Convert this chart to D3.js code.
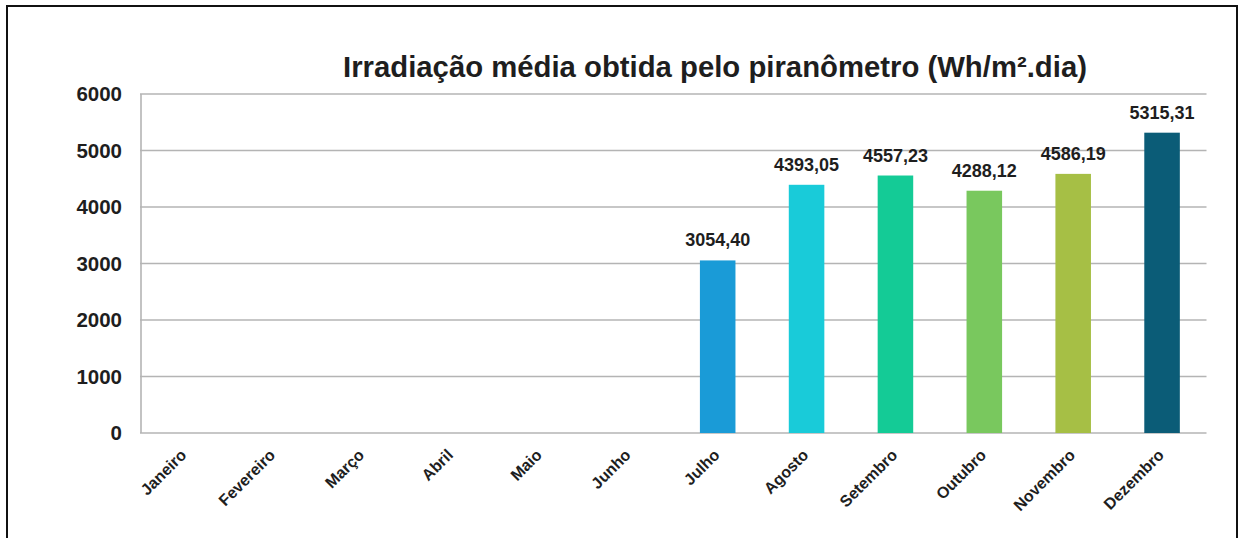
<!DOCTYPE html>
<html>

<head>
  <title>Irradiação</title>
  <script src="https://cdn.jsdelivr.net/npm/d3@7"></script>
  <style>
    body { margin: 0; background: #fff; }
    text { font-family: Arial, "Liberation Sans", sans-serif; font-weight: bold; fill: #1e1e1e; }
  </style>
</head>

<body>
  <svg width="1243" height="538" id="mainsvg"></svg>
  <script>
    // data
    const months = ['Janeiro', 'Fevereiro', 'Março', 'Abril', 'Maio', 'Junho',
      'Julho', 'Agosto', 'Setembro', 'Outubro', 'Novembro', 'Dezembro'];
    const values = [null, null, null, null, null, null,
      3054.40, 4393.05, 4557.23, 4288.12, 4586.19, 5315.31];
    const barColors = ['#1a9bd7', '#19cbd9', '#14cb96', '#79c85e', '#a6bf45', '#0b5c77'];
    const yTicks = [0, 1000, 2000, 3000, 4000, 5000, 6000];
    const title = 'Irradiação média obtida pelo piranômetro (Wh/m².dia)';

    const svg = d3.select('svg');
    const margin = {top: 94, left: 140, right: 1206.5, bottom: 433};

    // outer frame
    svg.append('rect')
      .attr('x', 7).attr('y', 6)
      .attr('width', 1230).attr('height', 560)
      .attr('fill', 'none').attr('stroke', '#111').attr('stroke-width', 2);

    const x = d3.scaleBand()
      .domain(months)
      .range([margin.left, margin.right])
      .paddingInner(0.6).paddingOuter(0.3);
    const xc = d3.scaleBand().domain(months).range([margin.left, margin.right]);

    const y = d3.scaleLinear().domain([0, 6000]).range([margin.bottom, margin.top]);

    // gridlines
    svg.append('g')
      .selectAll('line').data(yTicks).join('line')
      .attr('x1', margin.left).attr('x2', margin.right)
      .attr('y1', d => y(d)).attr('y2', d => y(d))
      .attr('stroke', '#b4b4b4').attr('stroke-width', 1.6);

    // y axis line
    svg.append('line')
      .attr('x1', margin.left + 1).attr('x2', margin.left + 1)
      .attr('y1', y(6000)).attr('y2', y(0))
      .attr('stroke', '#b4b4b4').attr('stroke-width', 1.6);

    // y tick labels
    svg.append('g')
      .selectAll('text').data(yTicks).join('text')
      .attr('x', 122)
      .attr('y', d => y(d))
      .attr('dy', '0.36em')
      .attr('text-anchor', 'end')
      .attr('font-size', 20.5)
      .text(d => d);

    const data = months.map((m, i) => ({month: m, value: values[i]}))
      .filter(d => d.value != null);

    // bars
    svg.append('g')
      .selectAll('rect').data(data).join('rect')
      .attr('x', d => x(d.month))
      .attr('width', x.bandwidth())
      .attr('y', d => y(d.value))
      .attr('height', d => y(0) - y(d.value))
      .attr('fill', (d, i) => barColors[i]);

    // value labels
    svg.append('g')
      .selectAll('text').data(data).join('text')
      .attr('x', d => x(d.month) + x.bandwidth() / 2)
      .attr('y', d => y(d.value) - 14)
      .attr('text-anchor', 'middle')
      .attr('font-size', 18)
      .text(d => d.value.toFixed(2).replace('.', ','));

    // month labels
    svg.append('g')
      .selectAll('text').data(months).join('text')
      .attr('transform', d => `translate(${xc(d) + xc.bandwidth() / 2 - 1}, ${y(0) + 19}) rotate(-45)`)
      .attr('text-anchor', 'end')
      .attr('dy', '0.35em')
      .attr('font-size', 16)
      .text(d => d);

    // title
    svg.append('text')
      .attr('x', 715).attr('y', 77)
      .attr('text-anchor', 'middle')
      .attr('font-size', 29.3)
      .text(title);
  </script>
</body>

</html>
